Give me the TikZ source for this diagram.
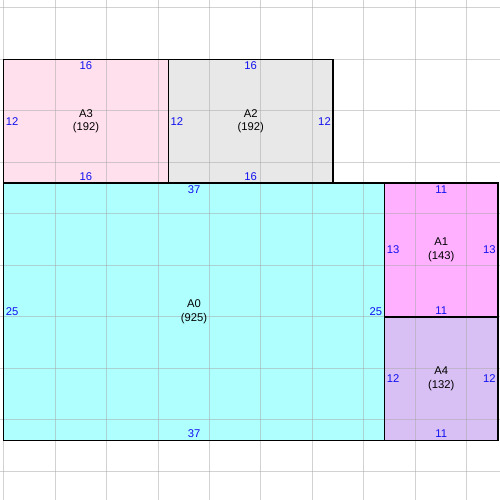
\documentclass[tikz,border=0pt]{standalone}
\usepackage{fontspec}
\setmainfont{Liberation Sans}
\definecolor{cA0}{HTML}{B0FFFF}
\definecolor{cA1}{HTML}{FFB0FF}
\definecolor{cA2}{HTML}{E8E8E8}
\definecolor{cA3}{HTML}{FFE0EC}
\definecolor{cA4}{HTML}{D8C0F4}
\definecolor{gridc}{HTML}{A7A7A7}
\definecolor{numc}{HTML}{1010F0}
\begin{document}
\begin{tikzpicture}[x=0.206cm,y=0.206cm,
  num/.style={text=numc,font=\fontsize{6.4pt}{7pt}\selectfont,inner sep=0pt},
  nm/.style={font=\fontsize{6.4pt}{7.6pt}\selectfont,align=center,inner sep=0pt},
  box/.style={draw=black,line width=0.75pt},
  gridline/.style={draw=gridc,line width=0.55pt,opacity=0.5}]
\useasboundingbox (-0.34,-5.78) rectangle (48.2,42.77);
\fill[white] (-0.34,-5.78) rectangle (48.2,42.77);
% fills
\fill[cA0] (0,0) rectangle (37,25);
\fill[cA3] (0,25) rectangle (16,37);
\fill[cA2] (16,25) rectangle (32,37);
\fill[cA1] (37,12) rectangle (48,25);
\fill[cA4] (37,0) rectangle (48,12);
% grid
\foreach \x in {0,5,...,45} \draw[gridline] (\x,-5.78) -- (\x,42.77);
\foreach \y in {-3,2,...,42} \draw[gridline] (-0.34,\y) -- (48.2,\y);
% borders
\draw[box] (0,0) rectangle (37,25);
\draw[box] (0,25) rectangle (16,37);
\draw[box] (16,25) rectangle (32,37);
\draw[box] (37,12) rectangle (48,25);
\draw[box] (37,0) rectangle (48,12);
% A3
\node[nm] (a3) at (8,31) {A3\\(192)};
\node[num] (a3t) at (8,36.37) {16};
\node[num] (a3b) at (8,25.63) {16};
\node[num,anchor=west] (a3l) at (0.19,31) {12};
% A2
\node[nm] (a2) at (24,31) {A2\\(192)};
\node[num] (a2t) at (24,36.37) {16};
\node[num] (a2b) at (24,25.63) {16};
\node[num,anchor=west] (a2l) at (16.19,31) {12};
\node[num,anchor=east] (a2r) at (31.81,31) {12};
% A0
\node[nm] (a0) at (18.5,12.5) {A0\\(925)};
\node[num] (a0t) at (18.5,24.37) {37};
\node[num] (a0b) at (18.5,0.63) {37};
\node[num,anchor=west] (a0l) at (0.19,12.5) {25};
\node[num,anchor=east] (a0r) at (36.81,12.5) {25};
% A1
\node[nm] (a1) at (42.5,18.5) {A1\\(143)};
\node[num] (a1t) at (42.5,24.37) {11};
\node[num] (a1b) at (42.5,12.63) {11};
\node[num,anchor=west] (a1l) at (37.19,18.5) {13};
\node[num,anchor=east] (a1r) at (47.81,18.5) {13};
% A4
\node[nm] (a4) at (42.5,6) {A4\\(132)};
\node[num] (a4b) at (42.5,0.63) {11};
\node[num,anchor=west] (a4l) at (37.19,6) {12};
\node[num,anchor=east] (a4r) at (47.81,6) {12};
\end{tikzpicture}
\end{document}
